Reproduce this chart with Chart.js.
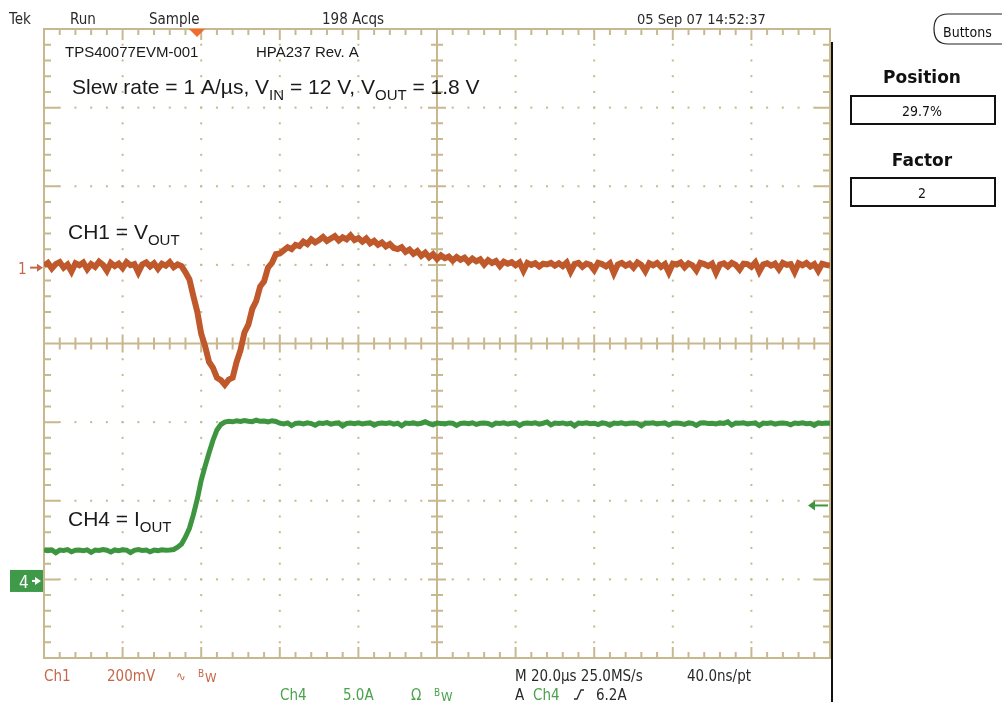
<!DOCTYPE html>
<html>
<head>
<meta charset="utf-8">
<script src="https://cdn.jsdelivr.net/npm/chart.js@4.4.0/dist/chart.umd.min.js"></script>
<style>
  html, body { margin: 0; padding: 0; background: #fff; }
  canvas { display: block; }
</style>
</head>
<body>
<canvas id="scope" width="1002" height="702"></canvas>
<script>
/* --------------- Scope settings --------------------- */
const SAMPLE_US = 1;          // one reading per microsecond
const US_PER_DIV = 20;
const CH1_MV_PER_DIV = 200;
const CH1_OFFSET_DIV = 0.965; // channel 1 marker above screen centre
const CH4_A_PER_DIV = 5;
const CH4_OFFSET_DIV = -3.02; // channel 4 marker below screen centre
const TRIGGER_A = 4.8;

/* --------------- CH1 = Vout deviation (mV), 0..200 us --------------------- */
const ch1Millivolts = [
  5, 12, -2, 9, 14, 0, 8, -10, 11, 6, 13, -4, 9, 2, 15, 7, -8, 12, 4, 10,
  -1, 14, 6, 9, -12, 8, 13, 3, 11, -3, 10, 5, 14, 1, 8, 4,
  -12, -30, -72, -112, -168, -200, -240, -255, -280, -286,
  -298, -285, -280, -240, -210, -165, -145, -105, -85, -48,
  -35, 0, 12, 34, 36,
  44, 52, 47, 58, 55, 66, 60, 72, 64, 70, 78, 68, 74, 80, 69, 77, 72, 82, 70, 75,
  66, 74, 62, 68, 58, 64, 54, 60, 50, 47,
  52, 40, 46, 35, 42, 30, 38, 26, 34, 22, 31, 24, 28, 18, 27, 20, 25, 14, 23, 16,
  21, 8, 19, 12, 17, 4, 15, 10, 14, 6, 13, -8, 12, 7, 11, 3, 10, 8, 12, 5,
  11, 4, 13, -10, 9, 12, 2, 10, 7, -6, 12, 9, 3, 11, -14, 8, 12, 5, 10, 0,
  13, 7, -9, 11, 6, 12, 2, 9, -12, 10, 8, 13, 1, 11, 6, -7, 12, 9, 4, 10,
  -13, 8, 11, 3, 12, 7, -5, 10, 9, 2, 13, -10, 8, 11, 5, 10, -4, 12, 7, 9,
  -11, 11, 6, 12, 3, 9, -8, 10, 7, 5
];

/* --------------- CH4 = Iout (A), 0..200 us --------------------- */
const ch4Amps = [
  1.98, 1.92, 1.97, 1.80, 1.96, 1.94, 1.99, 1.85, 1.95, 1.97,
  1.93, 1.98, 1.82, 1.96, 1.94, 1.99, 1.95, 1.84, 1.97, 1.93,
  1.98, 1.96, 1.81, 1.95, 1.99, 1.94, 1.97, 1.86, 1.96, 1.93,
  1.98, 1.95, 1.97,
  2.0, 2.15, 2.35, 2.8, 3.35, 4.2, 5.2, 6.4, 7.3, 8.15, 8.95, 9.6, 9.95, 10.1,
  10.15, 10.12, 10.18, 10.14, 10.2, 10.16, 10.13, 10.22, 10.15, 10.17, 10.12, 10.19, 10.14,
  10.03, 9.98, 10.05, 9.88, 10.02, 10.04, 9.99, 10.06, 10.01, 9.90,
  10.04, 10.02, 10.07, 9.97, 10.03, 10.05, 9.86, 10.02, 10.04, 10.00,
  10.06, 9.99, 10.03, 10.05, 9.91, 10.02, 10.04, 10.01, 10.06, 9.97,
  10.03, 9.87, 10.04, 10.02, 10.05, 9.98, 10.03, 10.12, 10.01, 9.93,
  10.04, 10.02, 9.99, 10.05, 10.03, 9.89, 10.02, 10.04, 10.00, 10.06,
  9.96, 10.03, 10.05, 10.01, 9.90, 10.04, 10.02, 10.06, 9.98, 10.03,
  10.05, 9.88, 10.02, 10.04, 10.01, 10.06, 9.97, 10.03, 10.11, 9.92,
  10.04, 10.02, 10.05, 9.99, 10.03, 9.86, 10.04, 10.02, 10.06, 10.00,
  10.03, 9.95, 10.05, 10.02, 9.90, 10.04, 10.01, 10.06, 9.98, 10.03,
  10.05, 10.02, 9.87, 10.04, 10.03, 10.06, 9.99, 10.02, 10.05, 9.92,
  10.03, 10.04, 10.01, 9.96, 10.05, 10.02, 9.89, 10.04, 10.06, 10.01,
  10.03, 9.98, 10.05, 10.02, 10.12, 9.91, 10.04, 10.03, 10.06, 9.99,
  10.02, 10.05, 9.88, 10.04, 10.01, 10.06, 9.97, 10.03, 10.05, 10.02,
  9.93, 10.04, 10.02, 10.06, 10.00, 10.03, 9.90, 10.05, 10.02, 10.04,
  10.03
];

/* --------------- Colours --------------------- */
const GRID = "#c8b88e";
const CH1_COLOR = "#bf582b";
const CH4_COLOR = "#3d963f";
const CH1_TEXT = "#c4684a";
const CH4_TEXT = "#4aa34c";
const DARK = "#2a2a2a";
const SCOPE_FONT = "'DejaVu Sans Condensed', 'DejaVu Sans', sans-serif";
const LABEL_FONT = "'Liberation Sans', Arial, sans-serif";

const toPoints = (arr) => arr.map((v, i) => ({ x: i * SAMPLE_US, y: v }));

/* --------------- Graticule (dots, crosshair, border ticks) --------------------- */
const graticule = {
  id: "graticule",
  beforeDatasetsDraw(chart) {
    const { ctx, chartArea: a } = chart;
    const xs = chart.scales.x;
    const dy = (a.bottom - a.top) / 8;
    const xMajor = [];
    for (let t = 0; t <= 10 * US_PER_DIV; t += US_PER_DIV) xMajor.push(xs.getPixelForValue(t));
    const dx = xMajor[1] - xMajor[0];
    const cx = xMajor[5], cy = a.top + 4 * dy;
    ctx.save();
    ctx.fillStyle = GRID;
    // dotted major lines
    for (let i = 1; i < 10; i++) {
      if (i === 5) continue;
      for (let j = 1; j < 40; j++) ctx.fillRect(xMajor[i] - 1, a.top + j * dy / 5 - 1, 2, 2);
    }
    for (let j = 1; j < 8; j++) {
      if (j === 4) continue;
      const y = a.top + j * dy;
      for (let i = 1; i < 50; i++) ctx.fillRect(a.left + i * dx / 5 - 1, y - 1, 2, 2);
    }
    ctx.strokeStyle = GRID;
    ctx.lineWidth = 2;
    ctx.beginPath();
    // crosshair
    ctx.moveTo(cx, a.top); ctx.lineTo(cx, a.bottom);
    ctx.moveTo(a.left, cy); ctx.lineTo(a.right, cy);
    for (let j = 1; j < 40; j++) {
      const y = a.top + j * dy / 5, len = j % 5 === 0 ? 9 : 6;
      ctx.moveTo(cx - len, y); ctx.lineTo(cx + len, y);
      const lb = j % 5 === 0 ? 15 : 7;
      ctx.moveTo(a.left, y); ctx.lineTo(a.left + lb, y);
      ctx.moveTo(a.right, y); ctx.lineTo(a.right - lb, y);
    }
    for (let i = 1; i < 50; i++) {
      const x = a.left + i * dx / 5, len = i % 5 === 0 ? 9 : 6;
      ctx.moveTo(x, cy - len); ctx.lineTo(x, cy + len);
      const lb = i % 5 === 0 ? 11 : 6;
      ctx.moveTo(x, a.top); ctx.lineTo(x, a.top + lb);
      ctx.moveTo(x, a.bottom); ctx.lineTo(x, a.bottom - lb);
    }
    ctx.stroke();
    ctx.strokeRect(a.left, a.top, a.right - a.left, a.bottom - a.top);
    ctx.restore();
  }
};

/* --------------- Screen texts and markers --------------------- */
const put = (ctx, s, x, y, font, color, align) => {
  ctx.font = font;
  ctx.fillStyle = color;
  ctx.textAlign = align || "left";
  ctx.textBaseline = "alphabetic";
  ctx.fillText(s, x, y);
};

const withSubs = (ctx, parts, x, y) => {
  ctx.fillStyle = "#1a1a1a";
  ctx.textAlign = "left";
  ctx.textBaseline = "alphabetic";
  for (const [s, sub] of parts) {
    ctx.font = (sub ? "15px " : "21px ") + LABEL_FONT;
    ctx.fillText(s, x, y + (sub ? 6 : 0));
    x += ctx.measureText(s).width;
  }
};

const arrowRight = (ctx, x0, x1, y, color) => {
  ctx.strokeStyle = color; ctx.fillStyle = color; ctx.lineWidth = 2;
  ctx.beginPath(); ctx.moveTo(x0, y); ctx.lineTo(x1 - 4, y); ctx.stroke();
  ctx.beginPath(); ctx.moveTo(x1, y); ctx.lineTo(x1 - 6, y - 4); ctx.lineTo(x1 - 6, y + 4); ctx.closePath(); ctx.fill();
};

const bandwidth = (ctx, x, y, color) => {
  put(ctx, "B", x, y - 5, "10px " + SCOPE_FONT, color);
  put(ctx, "W", x + 7, y, "13px " + SCOPE_FONT, color);
};

const overlay = {
  id: "overlay",
  afterDraw(chart) {
    const { ctx, chartArea: a } = chart;
    const f15 = "15px " + SCOPE_FONT;
    ctx.save();

    // right-hand black frame line
    ctx.fillStyle = "#111";
    ctx.fillRect(a.right + 1, 42, 2, 702 - 42);

    // header
    put(ctx, "Tek", 9, 24, f15, DARK);
    put(ctx, "Run", 70, 24, f15, DARK);
    put(ctx, "Sample", 149, 24, f15, DARK);
    put(ctx, "198 Acqs", 322, 24, f15, DARK);
    put(ctx, "05 Sep 07 14:52:37", 637, 24, "14.5px " + SCOPE_FONT, DARK);

    // trigger position marker
    ctx.fillStyle = "#f26a2c";
    ctx.beginPath(); ctx.moveTo(189, 29); ctx.lineTo(205, 29); ctx.lineTo(197, 37); ctx.closePath(); ctx.fill();

    // labels inside the screen
    put(ctx, "TPS40077EVM-001", 65, 57, "15px " + LABEL_FONT, "#1a1a1a");
    put(ctx, "HPA237 Rev. A", 256, 57, "15px " + LABEL_FONT, "#1a1a1a");
    withSubs(ctx, [["Slew rate = 1 A/\u00b5s, V"], ["IN", 1], [" = 12 V, V"], ["OUT", 1], [" = 1.8 V"]], 72, 94);
    withSubs(ctx, [["CH1 = V"], ["OUT", 1]], 68, 239);
    withSubs(ctx, [["CH4 = I"], ["OUT", 1]], 68, 526);

    // channel markers
    const y1 = chart.scales.y1.getPixelForValue(0);
    put(ctx, "1", 18, y1 + 6, "15px " + SCOPE_FONT, CH1_TEXT);
    arrowRight(ctx, 30, 43, y1, CH1_TEXT);
    const y4 = chart.scales.y4.getPixelForValue(0);
    ctx.fillStyle = "#3e9a48";
    ctx.fillRect(10, y4 - 11, 33, 22);
    put(ctx, "4", 19, y4 + 7, "17px " + SCOPE_FONT, "#ffffff");
    arrowRight(ctx, 32, 41, y4, "#ffffff");
    // trigger level arrow
    const yt = chart.scales.y4.getPixelForValue(TRIGGER_A);
    ctx.strokeStyle = CH4_COLOR; ctx.fillStyle = CH4_COLOR; ctx.lineWidth = 2;
    ctx.beginPath(); ctx.moveTo(828, yt); ctx.lineTo(813, yt); ctx.stroke();
    ctx.beginPath(); ctx.moveTo(808, yt); ctx.lineTo(815, yt - 5); ctx.lineTo(815, yt + 5); ctx.closePath(); ctx.fill();

    // bottom readouts
    put(ctx, "Ch1", 44, 681, f15, CH1_TEXT);
    put(ctx, "200mV", 107, 681, f15, CH1_TEXT);
    put(ctx, "\u223f", 176, 681, "13px " + SCOPE_FONT, CH1_TEXT);
    bandwidth(ctx, 198, 682, CH1_TEXT);
    put(ctx, "Ch4", 280, 700, f15, CH4_TEXT);
    put(ctx, "5.0A", 343, 700, f15, CH4_TEXT);
    put(ctx, "\u03a9", 411, 700, f15, CH4_TEXT);
    bandwidth(ctx, 434, 701, CH4_TEXT);
    put(ctx, "M 20.0\u00b5s 25.0MS/s", 515, 681, f15, DARK);
    put(ctx, "40.0ns/pt", 687, 681, f15, DARK);
    put(ctx, "A", 515, 700, f15, DARK);
    put(ctx, "Ch4", 533, 700, f15, CH4_TEXT);
    ctx.strokeStyle = DARK; ctx.lineWidth = 1.3;
    ctx.beginPath(); ctx.moveTo(574, 699); ctx.lineTo(577, 699); ctx.lineTo(581, 690); ctx.lineTo(584, 690); ctx.stroke();
    put(ctx, "6.2A", 596, 700, f15, DARK);

    // side menu
    ctx.strokeStyle = "#222"; ctx.lineWidth = 1.2;
    ctx.beginPath();
    ctx.moveTo(1002, 14);
    ctx.lineTo(948, 14);
    ctx.quadraticCurveTo(934, 14, 934, 29);
    ctx.quadraticCurveTo(934, 44, 948, 44);
    ctx.lineTo(1002, 44);
    ctx.stroke();
    put(ctx, "Buttons", 943, 37, "14px " + SCOPE_FONT, "#111");
    put(ctx, "Position", 922, 83, "bold 17px 'DejaVu Sans', sans-serif", "#111", "center");
    ctx.lineWidth = 2;
    ctx.strokeStyle = "#111";
    ctx.strokeRect(851, 96, 144, 28);
    put(ctx, "29.7%", 922, 116, "14px " + SCOPE_FONT, "#111", "center");
    put(ctx, "Factor", 922, 166, "bold 17px 'DejaVu Sans', sans-serif", "#111", "center");
    ctx.strokeRect(851, 178, 144, 28);
    put(ctx, "2", 922, 198, "14px " + SCOPE_FONT, "#111", "center");
    ctx.restore();
  }
};

new Chart(document.getElementById("scope"), {
  type: "line",
  data: {
    datasets: [
      {
        label: "CH1",
        data: toPoints(ch1Millivolts),
        yAxisID: "y1",
        borderColor: CH1_COLOR,
        borderWidth: 6,
        borderJoinStyle: "miter",
        pointRadius: 0,
        tension: 0,
      },
      {
        label: "CH4",
        data: toPoints(ch4Amps),
        yAxisID: "y4",
        borderColor: CH4_COLOR,
        borderWidth: 5,
        pointRadius: 0,
        tension: 0,
      },
    ],
  },
  options: {
    responsive: false,
    animation: false,
    devicePixelRatio: 1,
    layout: { padding: { left: 44, right: 172, top: 29, bottom: 44 } },
    plugins: { legend: { display: false }, tooltip: { enabled: false } },
    scales: {
      x: { type: "linear", min: 0, max: 10 * US_PER_DIV, display: false },
      y1: {
        min: (-4 - CH1_OFFSET_DIV) * CH1_MV_PER_DIV,
        max: (4 - CH1_OFFSET_DIV) * CH1_MV_PER_DIV,
        display: false,
      },
      y4: {
        min: (-4 - CH4_OFFSET_DIV) * CH4_A_PER_DIV,
        max: (4 - CH4_OFFSET_DIV) * CH4_A_PER_DIV,
        display: false,
      },
    },
  },
  plugins: [graticule, overlay],
});
</script>
</body>
</html>
